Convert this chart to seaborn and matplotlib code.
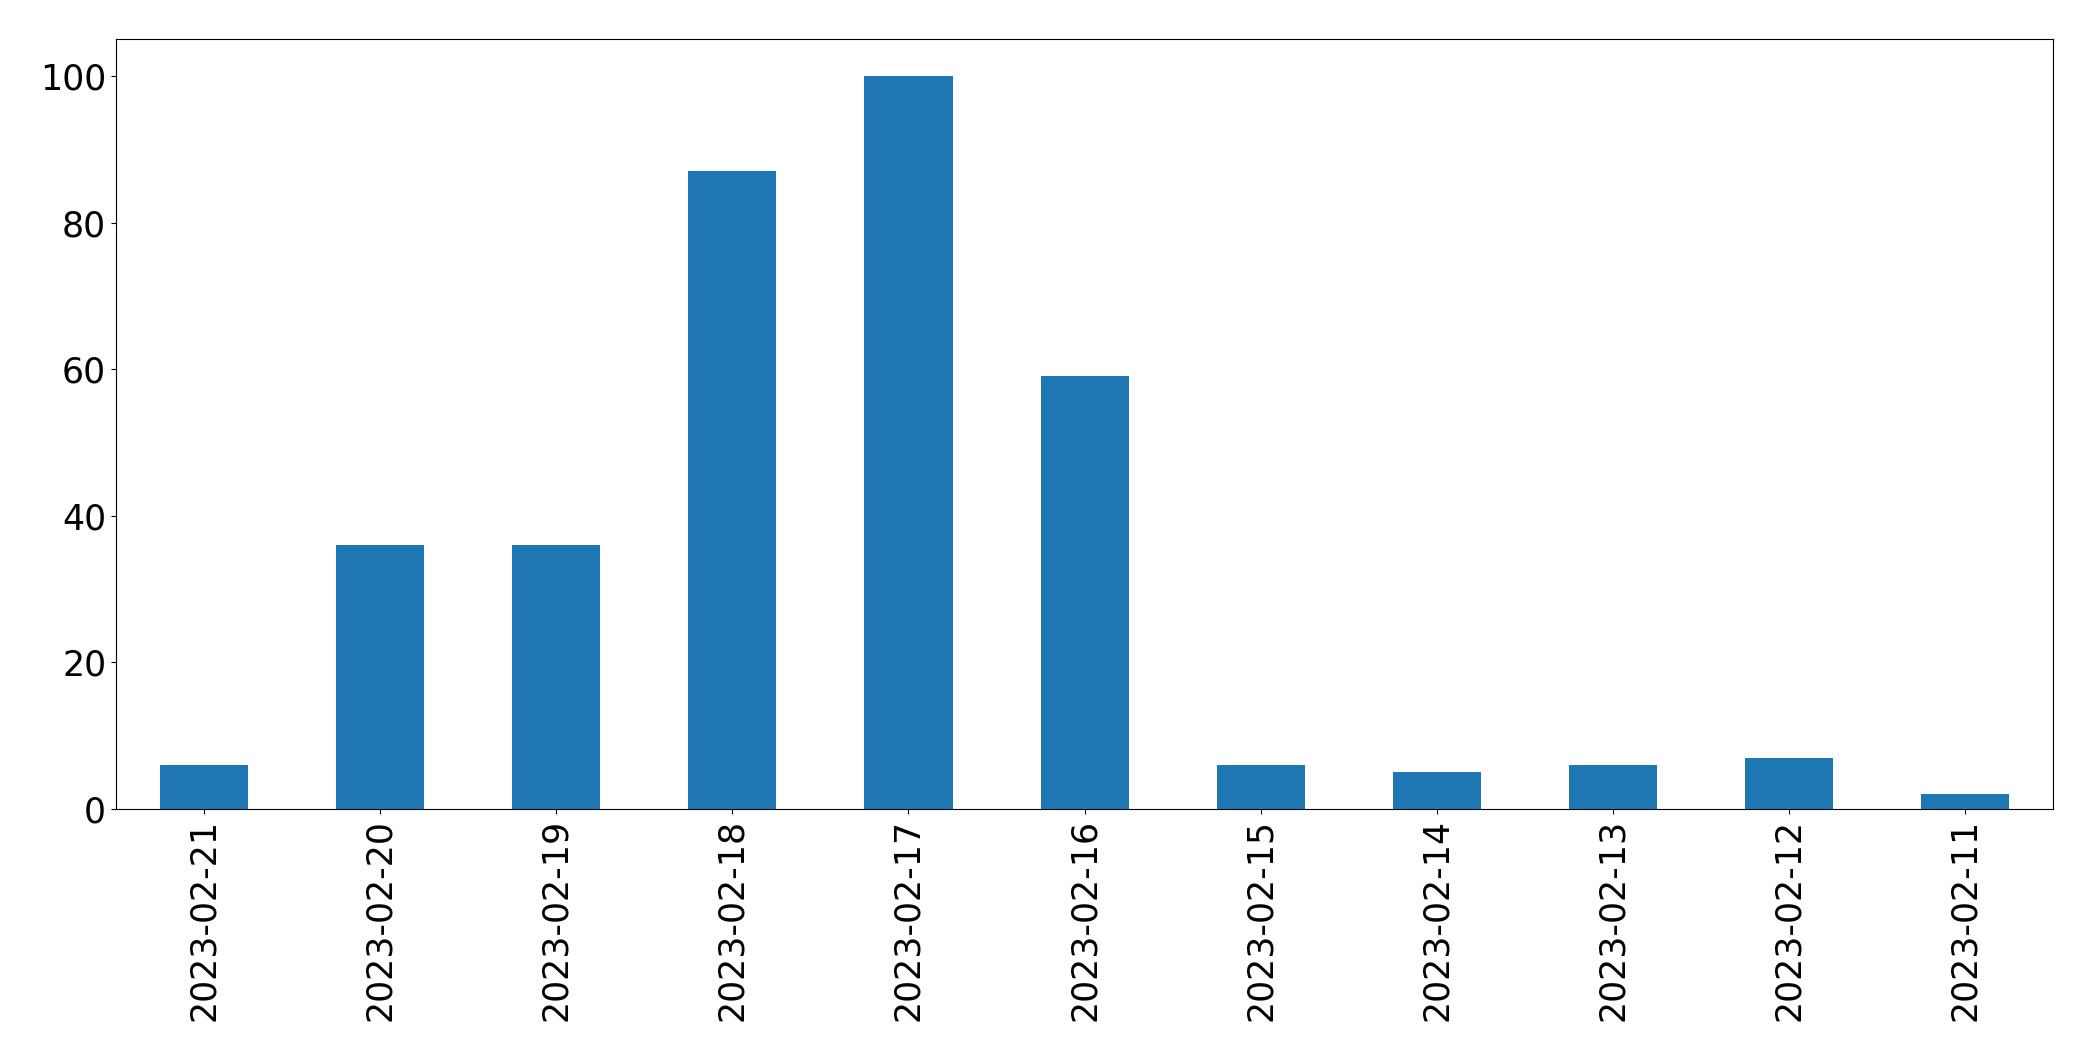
import numpy as np
import pandas as pd
import matplotlib
matplotlib.use('Agg')
import matplotlib.pyplot as plt
import seaborn as sns

dates = ['2023-02-21', '2023-02-20', '2023-02-19', '2023-02-18', '2023-02-17', '2023-02-16',
         '2023-02-15', '2023-02-14', '2023-02-13', '2023-02-12', '2023-02-11']
counts = [6, 36, 36, 87, 100, 59, 6, 5, 6, 7, 2]

df = pd.DataFrame({'date': dates, 'count': counts})

fig, ax = plt.subplots(figsize=(20.93, 10.61), dpi=100)
sns.barplot(data=df, x='date', y='count', color='#1f77b4', saturation=1, width=0.5, ax=ax)
ax.set_xlim(-0.5, len(dates) - 0.5)
ax.set_ylim(0, 105)
ax.set_xlabel('')
ax.set_ylabel('')
ax.tick_params(axis='x', labelrotation=90, labelsize=25)
ax.tick_params(axis='y', labelsize=25)
for s in ax.spines.values():
    s.set_color('black')
plt.subplots_adjust(left=0.0554, right=0.981, top=0.963, bottom=0.2375)
plt.savefig('out.png', dpi=100)
